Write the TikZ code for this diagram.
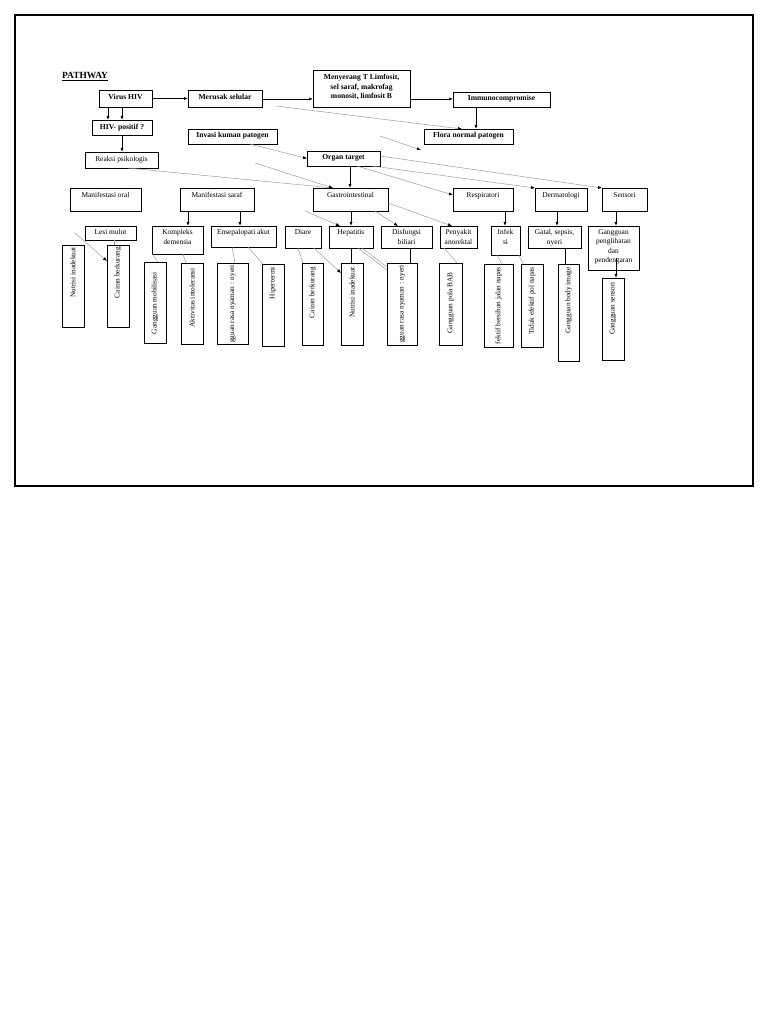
\documentclass[tikz,border=0pt]{standalone}
\usepackage{fontspec}
\setmainfont{Liberation Serif}
\usetikzlibrary{arrows.meta}
\newcommand\mybx[8]{%
  \node[bx, minimum width={#5pt-#3pt}, minimum height={#6pt-#4pt}] (#2) at ({(#3+#5)/2},{(#4+#6)/2}) {};
  \node[#1, anchor=north] (#2-t) at ([yshift=-#7pt]#2.north) {#8};}
\newcommand\myvbx[7]{%
  \node[bx, minimum width={#4pt-#2pt}, minimum height={#5pt-#3pt}] (#1) at ({(#2+#4)/2},{(#3+#5)/2}) {};
  \node[vtxt] (#1-t) at ({(#2+#4)/2},#6) {#7};}
\begin{document}
\begin{tikzpicture}[x=1pt,y=-1pt,
  bx/.style={draw=black, line width=0.8pt, inner sep=0pt, outer sep=0pt},
  rt/.style={font=\fontsize{7.4}{9.4}\selectfont, align=center, inner sep=1pt},
  bt/.style={font=\fontsize{7.6}{9.6}\selectfont\bfseries, align=center, inner sep=1pt},
  vtxt/.style={font=\fontsize{7.3}{9}\selectfont, rotate=90, anchor=east, inner sep=0pt},
  arr/.style={draw=black, line width=0.8pt, -{Latex[length=4pt,width=3.2pt]}},
  bl/.style={draw=black, line width=0.8pt},
  gl/.style={draw=black!38, line width=0.5pt},
  ga/.style={gl, -{Latex[length=4pt,width=3.2pt,color=black]}},
]
\useasboundingbox (0,0) rectangle (768,1024);
\fill[white] (0,0) rectangle (768,1024);
\draw[line width=2.5pt] (15,15) rectangle (753,486);

\node[font=\fontsize{9.4}{11}\selectfont\bfseries, anchor=base west, inner sep=0pt] (title) at (62,79) {\underline{PATHWAY}};

% top row
\mybx{bt}{virus}{99}{90}{152}{107}{3.5}{Virus HIV}
\mybx{bt}{merusak}{188}{90}{262}{107}{3.5}{Merusak selular}
\mybx{bt}{menyerang}{313}{70}{410}{107}{3}{Menyerang T Limfosit,\\ sel saraf, makrofag\\ monosit, limfosit B}
\mybx{bt}{immuno}{453}{92}{550}{107}{2.5}{Immunocompromise}
\mybx{bt}{hivpos}{92}{120}{152}{135}{2.5}{HIV- positif ?}
\mybx{rt}{reaksi}{85}{152}{158}{168}{3.5}{Reaksi psikologis}
\mybx{bt}{invasi}{188}{129}{277}{144}{2.5}{Invasi kuman patogen}
\mybx{bt}{flora}{424}{129}{513}{144}{2.5}{Flora normal patogen}
\mybx{bt}{organ}{307}{151}{380}{166}{2.5}{Organ target}

% second row
\mybx{rt}{oral}{70}{188}{141}{211}{3}{Manifestasi oral}
\mybx{rt}{saraf}{180}{188}{254}{211}{3}{Manifestasi saraf}
\mybx{rt}{gastro}{313}{188}{388}{211}{3}{Gastrointestinal}
\mybx{rt}{resp}{453}{188}{513}{211}{3}{Respiratori}
\mybx{rt}{derm}{535}{188}{587}{211}{3}{Dermatologi}
\mybx{rt}{sensori}{602}{188}{647}{211}{3}{Sensori}

% third row
\mybx{rt}{lesi}{85}{226}{136}{240}{2.5}{Lesi mulut}
\mybx{rt}{kompleks}{152}{226}{203}{254}{2.5}{Kompleks\\demensia}
\mybx{rt}{ensep}{211}{226}{276}{247}{2.5}{Ensepalopati akut}
\mybx{rt}{diare}{285}{226}{321}{248}{2.5}{Diare}
\mybx{rt}{hepatitis}{329}{226}{373}{248}{2.5}{Hepatitis}
\mybx{rt}{biliari}{381}{226}{432}{248}{2.5}{Disfungsi\\biliari}
\mybx{rt}{anorektal}{440}{226}{477}{248}{2.5}{Penyakit\\anorektal}
\mybx{rt}{infeksi}{491}{226}{520}{255}{2.5}{Infek\\si}
\mybx{rt}{gatal}{528}{226}{581}{248}{2.5}{Gatal, sepsis,\\nyeri}
\mybx{rt}{peng}{588}{226}{639}{270}{2.5}{Gangguan\\penglihatan\\dan\\pendengaran}

% vertical boxes
\myvbx{nut1}{62}{245}{84}{327}{247}{Nutrisi inadekuat}
\myvbx{cair1}{107}{245}{129}{327}{247}{Cairan berkurang}
\myvbx{mobil}{144}{262}{166}{343}{272}{Gangguan mobilisasi}
\myvbx{aktiv}{181}{263}{203}{344}{268}{Aktivitas intoleransi}
\myvbx{ggu1}{217}{263}{248}{344}{265}{gguan rasa nyaman : nyeri}
\myvbx{hiper}{262}{264}{284}{346}{267}{Hipertermi}
\myvbx{cair2}{302}{263}{323}{345}{267}{Cairan berkurang}
\myvbx{nut2}{341}{263}{363}{345}{267}{Nutrisi inadekuat}
\myvbx{ggu2}{387}{263}{417}{345}{265}{gguan rasa nyaman : nyeri}
\myvbx{bab}{439}{263}{462}{345}{272}{Gangguan pola BAB}
\myvbx{inef}{484}{264}{513}{347}{267}{fektif bersihan jalan napas}
\myvbx{tidak}{521}{264}{543}{347}{267}{Tidak efektif pol napas}
\myvbx{body}{558}{264}{579}{361}{267}{Gangguan body image}
\myvbx{gsens}{602}{278}{624}{360}{282}{Gangguan sensori}

% black arrows
\draw[arr] (virus.east) -- (virus.east -| merusak.west);
\draw[arr] (merusak.east |- 0,99) -- (menyerang.west |- 0,99);
\draw[arr] (menyerang.east |- 0,99) -- (immuno.west |- 0,99);
\draw[arr] (immuno.south -| 476,0) -- (flora.north -| 476,0);
\draw[arr] (virus.south -| 108,0) -- (hivpos.north -| 108,0);
\draw[arr] (virus.south -| 122,0) -- (hivpos.north -| 122,0);
\draw[arr] (hivpos.south -| 122,0) -- (reaksi.north -| 122,0);
\draw[arr] (organ.south -| 350,0) -- (gastro.north -| 350,0);
\draw[arr] (saraf.south -| 188,0) -- (kompleks.north -| 188,0);
\draw[arr] (saraf.south -| 240,0) -- (ensep.north -| 240,0);
\draw[arr] (gastro.south -| 351,0) -- (hepatitis.north -| 351,0);
\draw[arr] (resp.south -| 505,0) -- (infeksi.north -| 505,0);
\draw[arr] (derm.south -| 557,0) -- (gatal.north -| 557,0);
\draw[arr] (sensori.south -| 616,0) -- (peng.north -| 616,0);
\draw[arr] (peng.north -| 616,0) ++(0,32) -- (gsens.north -| 616,0);

% black lines
\draw[bl] (hepatitis.south -| 351,0) -- (nut2.north -| 351,0);
\draw[bl] (biliari.south -| 410,0) -- (ggu2.north -| 410,0);
\draw[bl] (gatal.south -| 565,0) -- (body.north -| 565,0);

% gray connectors
\coordinate (f1) at (276,106);
\draw[ga] (f1) -- (flora.north -| 462,0);
\coordinate (f2s) at (380,136);
\coordinate (f2e) at (421,150);
\draw[ga] (f2s) -- (f2e);
\draw[ga] (invasi.south -| 250,0) -- (organ.west);
\draw[ga] (reaksi.south -| 128,0) -- (gastro.north -| 333,0);
\coordinate (f5) at (255,163);
\draw[ga] (f5) -- (gastro.north -| 333,0);
\draw[ga] (organ.south -| 357,0) -- (resp.west |- 0,195);
\draw[ga] (organ.south -| 372,0) -- (derm.north west);
\draw[ga] (organ.east |- 0,156) -- (sensori.north west);
\draw[ga] (gastro.south -| 375,0) -- (biliari.north -| 398,0);
\draw[ga] (gastro.east |- 0,203) -- (anorektal.north -| 452,0);
\coordinate (f10) at (305,211);
\draw[ga] (f10) -- (hepatitis.north -| 340,0);
\coordinate (f11) at (75,233);
\draw[ga] (f11) -- (cair1.west |- 0,261);
\draw[gl] (lesi.south -| 114,0) -- (cair1.north -| 114,0);
\draw[gl] (kompleks.south west) -- (mobil.north -| 158,0);
\draw[gl] (kompleks.south -| 183,0) -- (aktiv.north -| 186,0);
\draw[gl] (ensep.south -| 232,0) -- (ggu1.north -| 235,0);
\draw[gl] (ensep.south -| 248,0) -- (hiper.north -| 263,0);
\draw[gl] (diare.south -| 298,0) -- (cair2.north -| 303,0);
\draw[ga] (diare.south -| 314,0) -- (nut2.west |- 0,273);
\draw[gl] (hepatitis.south -| 358,0) -- (ggu2.west |- 0,270);
\draw[gl] (hepatitis.south -| 362,0) -- (ggu2.west |- 0,267);
\draw[gl] (anorektal.south -| 444,0) -- (bab.north -| 457,0);
\draw[gl] (infeksi.south -| 497,0) -- (inef.north -| 502,0);
\draw[gl] (infeksi.south -| 519,0) -- (tidak.north -| 523,0);
\end{tikzpicture}
\end{document}
